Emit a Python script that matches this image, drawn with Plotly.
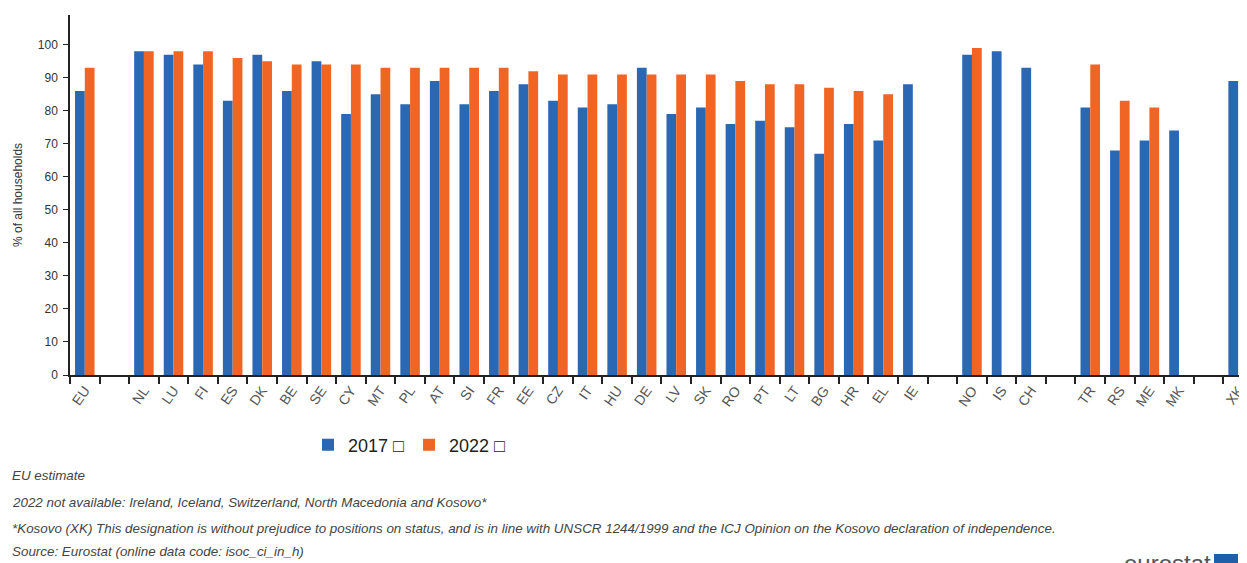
import plotly.graph_objects as go

# kategoriyalar (bo'sh joylar guruhlarni ajratadi)
countries = ["EU", " ",
             "NL", "LU", "FI", "ES", "DK", "BE", "SE", "CY", "MT", "PL", "AT", "SI",
             "FR", "EE", "CZ", "IT", "HU", "DE", "LV", "SK", "RO", "PT", "LT", "BG",
             "HR", "EL", "IE", "  ",
             "NO", "IS", "CH", "   ",
             "TR", "RS", "ME", "MK", "    ",
             "XK"]

values_2017 = [86, None,
               98, 97, 94, 83, 97, 86, 95, 79, 85, 82, 89, 82,
               86, 88, 83, 81, 82, 93, 79, 81, 76, 77, 75, 67,
               76, 71, 88, None,
               97, 98, 93, None,
               81, 68, 71, 74, None,
               89]

values_2022 = [93, None,
               98, 98, 98, 96, 95, 94, 94, 94, 93, 93, 93, 93,
               93, 92, 91, 91, 91, 91, 91, 91, 89, 88, 88, 87,
               86, 85, None, None,
               99, None, None, None,
               94, 83, 81, None, None,
               None]

footnotes = [
    "EU estimate",
    "2022 not available: Ireland, Iceland, Switzerland, North Macedonia and Kosovo*",
    "*Kosovo (XK) This designation is without prejudice to positions on status, and is in line with "
    "UNSCR 1244/1999 and the ICJ Opinion on the Kosovo declaration of independence.",
    "Source: Eurostat (online data code: isoc_ci_in_h)",
]

BLUE = "#2A68B4"
ORANGE = "#F06424"

# sahifada body 8px chetga ega, shuning uchun figura 8px kichikroq
OFF = 8
W, H = 1247 - OFF, 563 - OFF
L, T, B = 70 - OFF, 15 - OFF, 188
plot_w = W - L
plot_h = H - T - B


def px_x(px):
    # sahifa pikselidan paper koordinataga
    return (px - OFF - L) / plot_w


def px_y(py):
    return (H - B - (py - OFF)) / plot_h


fig = go.Figure()
fig.add_trace(go.Bar(x=countries, y=values_2017, name="2017 \u25a1",
                     marker=dict(color=BLUE, line=dict(width=0))))
fig.add_trace(go.Bar(x=countries, y=values_2022, name="2022 \u25a1",
                     marker=dict(color=ORANGE, line=dict(width=0))))

# y o'qi sarlavhasi
fig.add_annotation(text="% of all households", xref="paper", yref="paper",
                   x=px_x(18), y=px_y(195), textangle=-90, showarrow=False,
                   xanchor="center", yanchor="middle",
                   font=dict(family="Liberation Sans, Arial", size=12, color="#333"))

# izohlar
for txt, py in zip(footnotes, [476, 502, 528, 551]):
    fig.add_annotation(text=txt, xref="paper", yref="paper", x=px_x(10), y=px_y(py),
                       xanchor="left", yanchor="middle", showarrow=False,
                       font=dict(family="Liberation Sans, Arial", size=13.4,
                                 color="#444", style="italic"))

# eurostat logotipi (pastda kesilgan)
fig.add_annotation(text="eurostat", xref="paper", yref="paper", x=px_x(1213), y=px_y(563),
                   xanchor="right", yanchor="middle", showarrow=False,
                   font=dict(family="Liberation Sans, Arial", size=24, color="#555"))
fig.add_shape(type="rect", xref="paper", yref="paper",
              x0=px_x(1214), x1=px_x(1238), y0=px_y(580), y1=px_y(554),
              fillcolor="#1f5fa8", line=dict(width=0))

fig.update_layout(
    width=W, height=H,
    margin=dict(l=L, r=0, t=T, b=B, autoexpand=False),
    barmode="group", bargap=0.34, bargroupgap=0,
    plot_bgcolor="white", paper_bgcolor="white",
    font=dict(family="Liberation Sans, Arial", color="#333"),
    showlegend=True,
    legend=dict(orientation="h", x=px_x(308), y=px_y(445), xanchor="left", yanchor="middle",
                font=dict(size=18, color="#222"), itemclick=False, traceorder="normal"),
    xaxis=dict(type="category", range=[-0.5, 39.3], showline=True, linecolor="#222",
               linewidth=1.5, ticks="outside", tickson="boundaries", ticklen=7,
               tickcolor="#222", tickwidth=1.5, tickangle=-55, automargin=False,
               tickfont=dict(size=14, color="#555"), showgrid=False),
    yaxis=dict(range=[0, 109], tickvals=list(range(0, 101, 10)), showline=True,
               linecolor="#222", linewidth=1.5, ticks="outside", ticklen=5,
               tickcolor="#222", tickfont=dict(size=12, color="#333"), showgrid=False,
               zeroline=False, automargin=False, ticklabelstandoff=3),
)

fig.write_html("out.html")
